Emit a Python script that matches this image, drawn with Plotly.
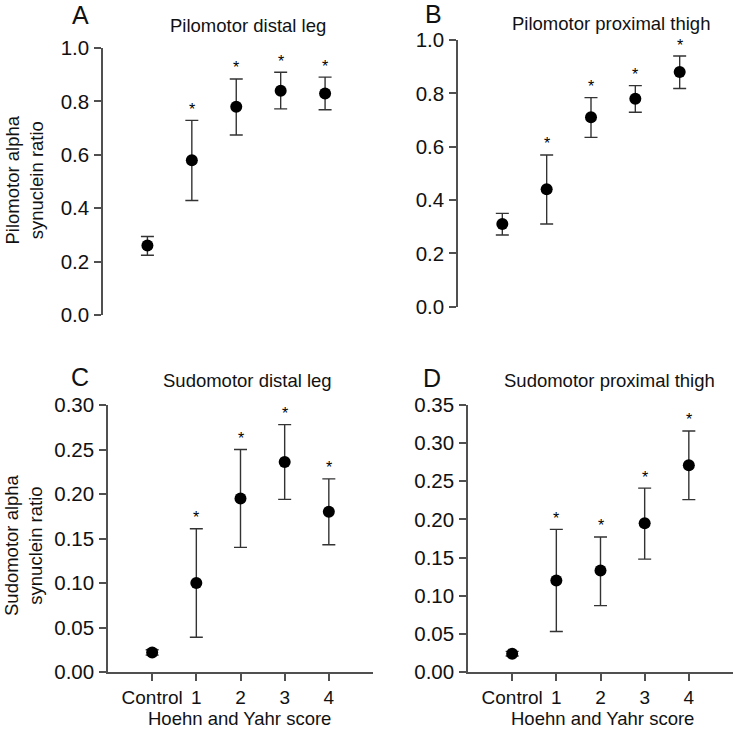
import plotly.graph_objects as go

# ---------------- data ----------------
categories = ["Control", "1", "2", "3", "4"]
stars = ["", "*", "*", "*", "*"]

pilo_distal_mean = [0.26, 0.58, 0.78, 0.84, 0.83]
pilo_distal_upper = [0.294, 0.729, 0.884, 0.909, 0.891]
pilo_distal_lower = [0.224, 0.429, 0.674, 0.772, 0.769]

pilo_prox_mean = [0.31, 0.44, 0.71, 0.78, 0.88]
pilo_prox_upper = [0.35, 0.569, 0.784, 0.829, 0.94]
pilo_prox_lower = [0.269, 0.31, 0.635, 0.729, 0.818]

sudo_distal_mean = [0.022, 0.100, 0.195, 0.236, 0.180]
sudo_distal_upper = [0.025, 0.161, 0.250, 0.278, 0.217]
sudo_distal_lower = [0.019, 0.039, 0.140, 0.194, 0.143]

sudo_prox_mean = [0.024, 0.120, 0.133, 0.195, 0.271]
sudo_prox_upper = [0.027, 0.187, 0.177, 0.241, 0.316]
sudo_prox_lower = [0.021, 0.053, 0.087, 0.148, 0.226]

panel_titles = ["Pilomotor distal leg", "Pilomotor proximal thigh",
                "Sudomotor distal leg", "Sudomotor proximal thigh"]
panel_letters = ["A", "B", "C", "D"]
y_titles = ["Pilomotor alpha<br>synuclein ratio", "Sudomotor alpha<br>synuclein ratio"]
x_title = "Hoehn and Yahr score"

# ---------------- style ----------------
W, H = 736, 730
FONT = "Liberation Sans, Arial, sans-serif"
AXC = "#505050"
TXT = "#111111"

def px(x):
    return x / W

def py(y):
    return 1 - y / H

panels = [
    dict(mean=pilo_distal_mean, up=pilo_distal_upper, lo=pilo_distal_lower,
         xd=[px(103), px(369.5)], yd=[py(315), py(48)], yr=[0, 1.0], dt=0.2, fmt=".1f", bottom=False),
    dict(mean=pilo_prox_mean, up=pilo_prox_upper, lo=pilo_prox_lower,
         xd=[px(458), px(724)], yd=[py(306.7), py(40)], yr=[0, 1.0], dt=0.2, fmt=".1f", bottom=False),
    dict(mean=sudo_distal_mean, up=sudo_distal_upper, lo=sudo_distal_lower,
         xd=[px(108), px(373)], yd=[py(672), py(405)], yr=[0, 0.30], dt=0.05, fmt=".2f", bottom=True),
    dict(mean=sudo_prox_mean, up=sudo_prox_upper, lo=sudo_prox_lower,
         xd=[px(468), px(733)], yd=[py(672), py(405)], yr=[0, 0.35], dt=0.05, fmt=".2f", bottom=True),
]

fig = go.Figure()
layout = dict(width=W, height=H, autosize=False, margin=dict(l=0, r=0, t=0, b=0, pad=0),
              paper_bgcolor="white", plot_bgcolor="white", showlegend=False,
              font=dict(family=FONT, size=18, color=TXT))
annotations = []

for i, p in enumerate(panels):
    n = i + 1
    xa = "x" if n == 1 else f"x{n}"
    ya = "y" if n == 1 else f"y{n}"
    err_plus = [u - m for u, m in zip(p["up"], p["mean"])]
    err_minus = [m - l for m, l in zip(p["mean"], p["lo"])]
    fig.add_trace(go.Scatter(
        x=categories, y=p["mean"], mode="markers", xaxis=xa, yaxis=ya,
        marker=dict(color="black", size=12, line=dict(width=0)),
        error_y=dict(type="data", symmetric=False, array=err_plus, arrayminus=err_minus,
                     color="#333333", thickness=1.4, width=6.5),
    ))
    for c, u, s in zip(categories, p["up"], stars):
        if s:
            annotations.append(dict(x=c, y=u, xref=xa, yref=ya, text=s, showarrow=False,
                                    yanchor="middle", yshift=11,
                                    font=dict(size=16, color="black", family=FONT)))
    xkey = "xaxis" if n == 1 else f"xaxis{n}"
    ykey = "yaxis" if n == 1 else f"yaxis{n}"
    layout[xkey] = dict(domain=p["xd"], anchor=ya, type="category", range=[-1, 5],
                        categoryorder="array", categoryarray=categories,
                        showgrid=False, zeroline=False, automargin=False,
                        showline=p["bottom"], linecolor=AXC, linewidth=1.5,
                        ticks="outside" if p["bottom"] else "", ticklen=7, tickcolor=AXC, tickwidth=1.5,
                        showticklabels=p["bottom"], tickfont=dict(size=19, color=TXT),
                        fixedrange=True)
    layout[ykey] = dict(domain=p["yd"], anchor=xa, range=p["yr"], dtick=p["dt"], tick0=0,
                        tickformat=p["fmt"], showgrid=False, zeroline=False, automargin=False,
                        showline=True, linecolor=AXC, linewidth=1.5,
                        ticks="outside", ticklen=7, tickcolor=AXC, tickwidth=1.5,
                        ticklabelstandoff=1,
                        tickfont=dict(size=20.5, color=TXT), fixedrange=True)

# titles and letters
title_pos = [(248, 25), (611, 23), (247, 380), (609, 380)]
letter_pos = [(80, 15), (433, 14), (80, 377), (432, 378)]
for t, (x, y) in zip(panel_titles, title_pos):
    annotations.append(dict(x=px(x), y=py(y), xref="paper", yref="paper", text=t,
                            showarrow=False, xanchor="center", yanchor="middle",
                            font=dict(size=18.5, color=TXT, family=FONT)))
for t, (x, y) in zip(panel_letters, letter_pos):
    annotations.append(dict(x=px(x), y=py(y), xref="paper", yref="paper", text=t,
                            showarrow=False, xanchor="center", yanchor="middle",
                            font=dict(size=25, color=TXT, family=FONT)))
for t, (x, y) in zip(y_titles, [(23.5, 180), (23, 545)]):
    annotations.append(dict(x=px(x), y=py(y), xref="paper", yref="paper", text=t,
                            showarrow=False, xanchor="center", yanchor="middle", textangle=-90,
                            font=dict(size=18.5, color=TXT, family=FONT)))
for x, y in [(239, 718), (602, 718)]:
    annotations.append(dict(x=px(x), y=py(y), xref="paper", yref="paper", text=x_title,
                            showarrow=False, xanchor="center", yanchor="middle",
                            font=dict(size=18.5, color=TXT, family=FONT)))

layout["annotations"] = annotations
fig.update_layout(**layout)
fig.write_html("out.html", config={"displayModeBar": False},
               post_script="document.body.style.margin='0';document.body.style.overflow='hidden';")
